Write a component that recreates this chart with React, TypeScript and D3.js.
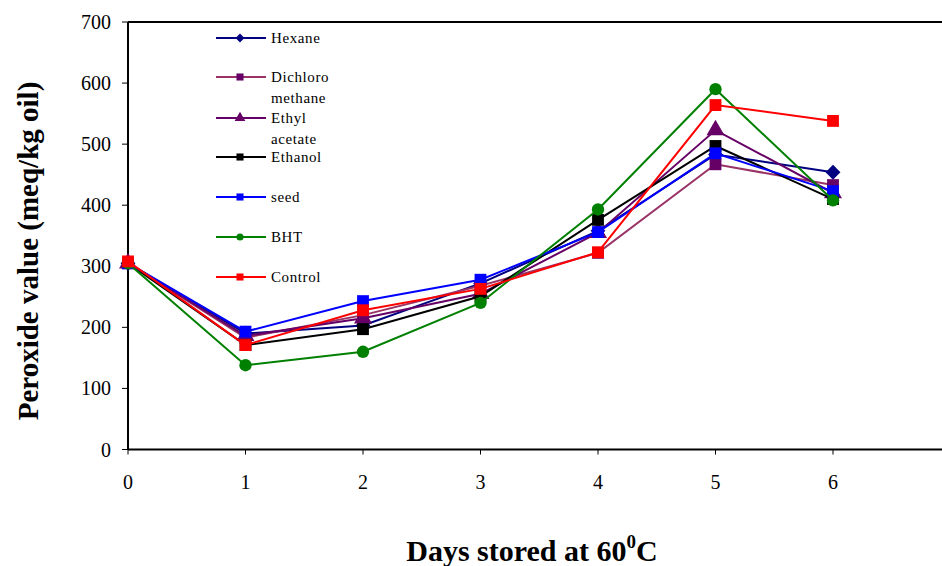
import React, { useEffect, useRef } from 'react';
import * as d3 from 'd3';

const days = [0, 1, 2, 3, 4, 5, 6];
const yTicks = [0, 100, 200, 300, 400, 500, 600, 700];

const hexane = [305, 190, 203, 272, 358, 483, 454];
const dichloro = [305, 183, 220, 268, 322, 467, 433];
const ethylAcetate = [305, 186, 215, 255, 355, 523, 420];
const ethanol = [305, 171, 197, 251, 376, 497, 410];
const seed = [305, 193, 243, 278, 356, 485, 423];
const bht = [305, 138, 160, 240, 393, 590, 408];
const control = [308, 171, 228, 263, 323, 564, 538];

const series = [
  { name: ['Hexane'], values: hexane, line: '#000080', fill: '#000080', shape: 'diamond' },
  { name: ['Dichloro', 'methane'], values: dichloro, line: '#993366', fill: '#660066', shape: 'square' },
  { name: ['Ethyl', 'acetate'], values: ethylAcetate, line: '#660066', fill: '#660066', shape: 'triangle' },
  { name: ['Ethanol'], values: ethanol, line: '#000000', fill: '#000000', shape: 'square' },
  { name: ['seed'], values: seed, line: '#0000FF', fill: '#0000FF', shape: 'square' },
  { name: ['BHT'], values: bht, line: '#008000', fill: '#008000', shape: 'circle' },
  { name: ['Control'], values: control, line: '#FF0000', fill: '#FF0000', shape: 'square' },
];

const legendRows = [38, 77, 118, 157, 197, 237, 277];

const W = 942;
const H = 566;
const left = 128;
const top = 22;
const bottom = 449.5;
const font = "'Liberation Serif', 'Times New Roman', serif";

const symbolFor = (shape: string, size: number) => {
  const type =
    shape === 'diamond' ? d3.symbolDiamond2 :
    shape === 'triangle' ? d3.symbolTriangle :
    shape === 'circle' ? d3.symbolCircle : d3.symbolSquare;
  return d3.symbol().type(type).size(size)();
};

const App = () => {
  const ref = useRef<SVGSVGElement>(null);

  useEffect(() => {
    const svg = d3.select(ref.current);
    svg.selectAll('*').remove();

    const x = d3.scaleLinear().domain([0, 7]).range([left, left + 7 * 117.5]);
    const y = d3.scaleLinear().domain([0, 700]).range([bottom, top]);

    // axes
    svg.append('line')
      .attr('x1', left).attr('x2', W).attr('y1', top).attr('y2', top)
      .attr('stroke', '#000').attr('stroke-width', 2);
    svg.append('line')
      .attr('x1', left).attr('x2', W).attr('y1', bottom).attr('y2', bottom)
      .attr('stroke', '#000').attr('stroke-width', 2);
    svg.append('line')
      .attr('x1', left).attr('x2', left).attr('y1', top).attr('y2', bottom)
      .attr('stroke', '#000').attr('stroke-width', 2);

    yTicks.forEach(t => {
      svg.append('line')
        .attr('x1', left - 6).attr('x2', left).attr('y1', y(t)).attr('y2', y(t))
        .attr('stroke', '#000').attr('stroke-width', 1);
      svg.append('text')
        .attr('x', 111).attr('y', y(t) + 7)
        .attr('text-anchor', 'end')
        .style('font-family', font).style('font-size', '20px')
        .text(String(t));
    });

    days.forEach(d => {
      svg.append('line')
        .attr('x1', x(d)).attr('x2', x(d)).attr('y1', bottom).attr('y2', bottom + 5)
        .attr('stroke', '#000').attr('stroke-width', 1);
      svg.append('text')
        .attr('x', x(d)).attr('y', 489)
        .attr('text-anchor', 'middle')
        .style('font-family', font).style('font-size', '20px')
        .text(String(d));
    });

    // lines and markers
    const line = d3.line<number>().x((_, i) => x(days[i])).y(v => y(v));
    series.forEach(s => {
      svg.append('path')
        .attr('d', line(s.values))
        .attr('fill', 'none')
        .attr('stroke', s.line)
        .attr('stroke-width', 2);
      s.values.forEach((v, i) => {
        svg.append('path')
          .attr('d', symbolFor(s.shape, s.shape === 'circle' ? 120 : 140))
          .attr('transform', `translate(${x(days[i])},${y(v)})`)
          .attr('fill', s.fill);
      });
    });

    // legend
    series.forEach((s, i) => {
      const ly = legendRows[i];
      svg.append('line')
        .attr('x1', 216).attr('x2', 266).attr('y1', ly).attr('y2', ly)
        .attr('stroke', s.line).attr('stroke-width', 2);
      svg.append('path')
        .attr('d', symbolFor(s.shape, s.shape === 'circle' ? 40 : 50))
        .attr('transform', `translate(240,${ly})`)
        .attr('fill', s.fill);
      s.name.forEach((n, j) => {
        svg.append('text')
          .attr('x', 271).attr('y', ly + 5 + j * 20.5)
          .style('font-family', font).style('font-size', '15px')
          .style('letter-spacing', '0.6px')
          .text(n);
      });
    });

    // titles
    svg.append('text')
      .attr('transform', 'translate(38,251) rotate(-90)')
      .attr('text-anchor', 'middle')
      .style('font-family', font).style('font-size', '29px').style('font-weight', 'bold')
      .text('Peroxide value (meq/kg oil)');

    const xt = svg.append('text')
      .attr('x', 532).attr('y', 561)
      .attr('text-anchor', 'middle')
      .style('font-family', font).style('font-size', '30px').style('font-weight', 'bold');
    xt.append('tspan').text('Days stored at 60');
    xt.append('tspan').style('font-size', '19px').attr('dy', -13).text('0');
    xt.append('tspan').attr('dy', 13).text('C');
  }, []);

  return (
    <div style={{ position: 'absolute', left: 0, top: 0 }}>
      <svg ref={ref} width={W} height={H} style={{ display: 'block', background: '#fff' }} />
    </div>
  );
};

export default App;
